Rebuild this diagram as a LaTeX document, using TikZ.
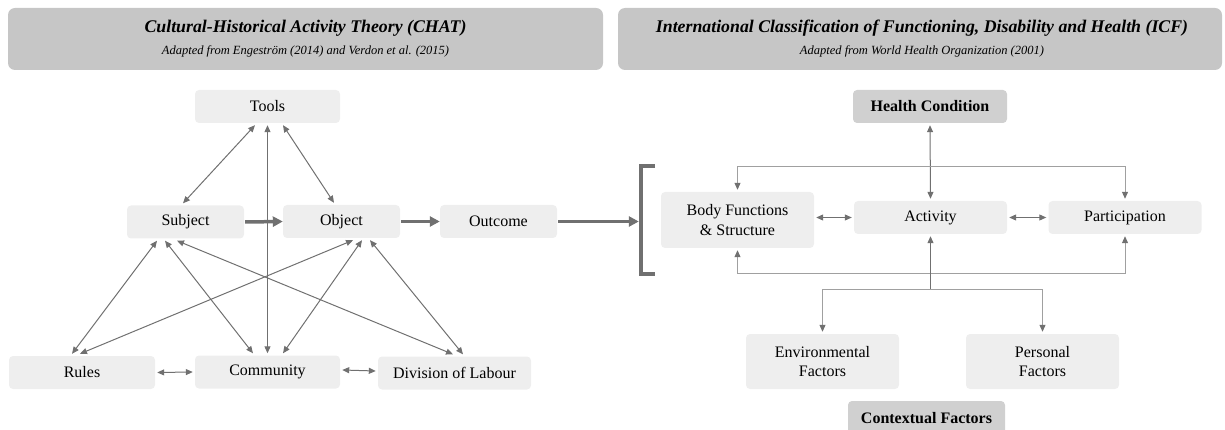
\documentclass[tikz,border=0pt]{standalone}
\usepackage{fontspec}
\setmainfont{Liberation Serif}
\usetikzlibrary{arrows.meta}
\definecolor{boxgray}{HTML}{EEEEEE}
\definecolor{headgray}{HTML}{C6C6C6}
\definecolor{keygray}{HTML}{D0D0D0}
\definecolor{arrowgray}{HTML}{707070}
\definecolor{linegray}{HTML}{A0A0A0}

\begin{document}
\begin{tikzpicture}[x=1pt,y=-1pt,
	>={Triangle[length=7pt,width=6pt,color=arrowgray]},
	box/.style={fill=boxgray, rounded corners=4pt, minimum width=117pt, minimum height=33pt, inner sep=2pt, align=center, font=\fontsize{16}{19.5}\selectfont},
	keybox/.style={box, fill=keygray, font=\fontsize{16}{19.5}\selectfont\bfseries},
	header/.style={fill=headgray, rounded corners=7pt, minimum height=62pt, inner sep=0pt},
	headtitle/.style={font=\fontsize{17.8}{20}\selectfont\bfseries\itshape},
	headsub/.style={font=\fontsize{12.5}{14}\selectfont\itshape},
	link/.style={draw=arrowgray, line width=1pt, <->},
	single/.style={draw=arrowgray, line width=1pt, ->},
	loopline/.style={draw=linegray, line width=1pt, <->},
	forkline/.style={draw=linegray, line width=1pt, ->},
	flow/.style={draw=arrowgray, line width=3.5pt, -{Triangle[length=10pt,width=10pt]}},
	bracketline/.style={draw=arrowgray, line width=4.5pt}
]
\useasboundingbox (0,0) rectangle (1225,430);

\node[header, minimum width=595pt] (chathead) at (305.5,39) {};
\node[headtitle] (chattitle) at (305.5,28.5) {Cultural-Historical Activity Theory (CHAT)};
\node[headsub] (chatsub) at (305.5,51.5) {Adapted from Engeström (2014) and Verdon et al. (2015)};
\node[header, minimum width=604pt] (icfhead) at (920,39) {};
\node[headtitle] (icftitle) at (922,28.5) {International Classification of Functioning, Disability and Health (ICF)};
\node[headsub] (icfsub) at (922,51.5) {Adapted from World Health Organization (2001)};

\node[box, minimum width=145pt] (tools) at (267.5,106.5) {Tools};
\node[box] (subject) at (185.5,222) {Subject};
\node[box] (object) at (341.5,221.5) {Object};
\node[box] (outcome) at (498.5,221.5) {Outcome};
\node[box, minimum width=146pt] (rules) at (82,372.5) {Rules};
\node[box, minimum width=145pt] (community) at (267.5,372) {Community};
\node[box, minimum width=153pt] (labour) at (454.5,373) {Division of Labour};

\draw[link] ([xshift=-12.5pt,yshift=-2pt]tools.south) -- ([xshift=-2.5pt,yshift=2pt]subject.north);
\draw[link] ([xshift=15.5pt,yshift=-2pt]tools.south) -- ([xshift=-7.5pt,yshift=2pt]object.north);
\draw[link] ([yshift=-2pt]tools.south) -- ([yshift=2pt]community.north);
\draw[link] ([xshift=-28.5pt,yshift=-2pt]subject.south) -- ([xshift=-10pt,yshift=2pt]rules.north);
\draw[link] ([xshift=-20.5pt,yshift=-2pt]subject.south) -- ([xshift=-14.5pt,yshift=2pt]community.north);
\draw[link] ([xshift=-8.5pt,yshift=-2pt]subject.south) -- ([xshift=-1.5pt,yshift=2pt]labour.north);
\draw[link] ([xshift=11.5pt,yshift=-2pt]object.south) -- ([xshift=-2pt,yshift=2pt]rules.north);
\draw[link] ([xshift=20.5pt,yshift=-2pt]object.south) -- ([xshift=15.5pt,yshift=2pt]community.north);
\draw[link] ([xshift=28.5pt,yshift=-2pt]object.south) -- ([xshift=8.5pt,yshift=2pt]labour.north);
\draw[link] ([xshift=2pt]rules.east) -- ([xshift=-2pt]community.west);
\draw[link] ([xshift=2pt,yshift=2pt]community.east) -- ([xshift=-2pt,yshift=2pt]labour.west);

\draw[flow] ([xshift=1pt]subject.east) -- (object.west);
\draw[flow] ([xshift=1pt]object.east) -- (outcome.west);

\node[minimum width=14pt, minimum height=108pt, inner sep=0pt] (bracket) at (648,220) {};
\draw[bracketline] (bracket.north east) -- (bracket.north west) -- (bracket.south west) -- (bracket.south east);
\draw[flow, shorten >=2pt] ([xshift=1pt]outcome.east) -- (outcome.east -| bracket.west);

\node[keybox, minimum width=154pt] (health) at (930,106.5) {Health Condition};
\node[box, minimum width=153pt, minimum height=56pt] (body) at (737.5,220) {Body Functions\\\& Structure};
\node[box, minimum width=153pt] (activity) at (930.5,217.5) {Activity};
\node[box, minimum width=153pt] (partic) at (1125,217.5) {Participation};
\node[box, minimum width=153pt, minimum height=55pt] (environ) at (822.5,361.5) {Environmental\\Factors};
\node[box, minimum width=153pt, minimum height=55pt] (personal) at (1042.5,361.5) {Personal\\Factors};
\node[keybox, minimum width=157pt, minimum height=34pt] (context) at (926.5,418) {Contextual Factors};

\draw[link] ([yshift=-2pt]health.south) -- ([yshift=2pt]activity.north);
\draw[link] ([xshift=2pt]body.east |- activity.west) -- ([xshift=-2pt]activity.west);
\draw[link] ([xshift=2pt]activity.east) -- ([xshift=-2pt]partic.west);
\draw[loopline] ([yshift=2pt]body.north) -- ++(0,-23) -| ([yshift=2pt]partic.north);
\draw[loopline] ([yshift=-2pt]body.south) -- ++(0,23) -| ([yshift=-2pt]partic.south);

\coordinate (fork) at ([yshift=-55pt]activity.south);
\draw[single] (fork) -- ([yshift=-2pt]activity.south);
\draw[forkline] (fork) -| ([yshift=2pt]environ.north);
\draw[forkline] (fork) -| ([yshift=2pt]personal.north);
\end{tikzpicture}
\end{document}
